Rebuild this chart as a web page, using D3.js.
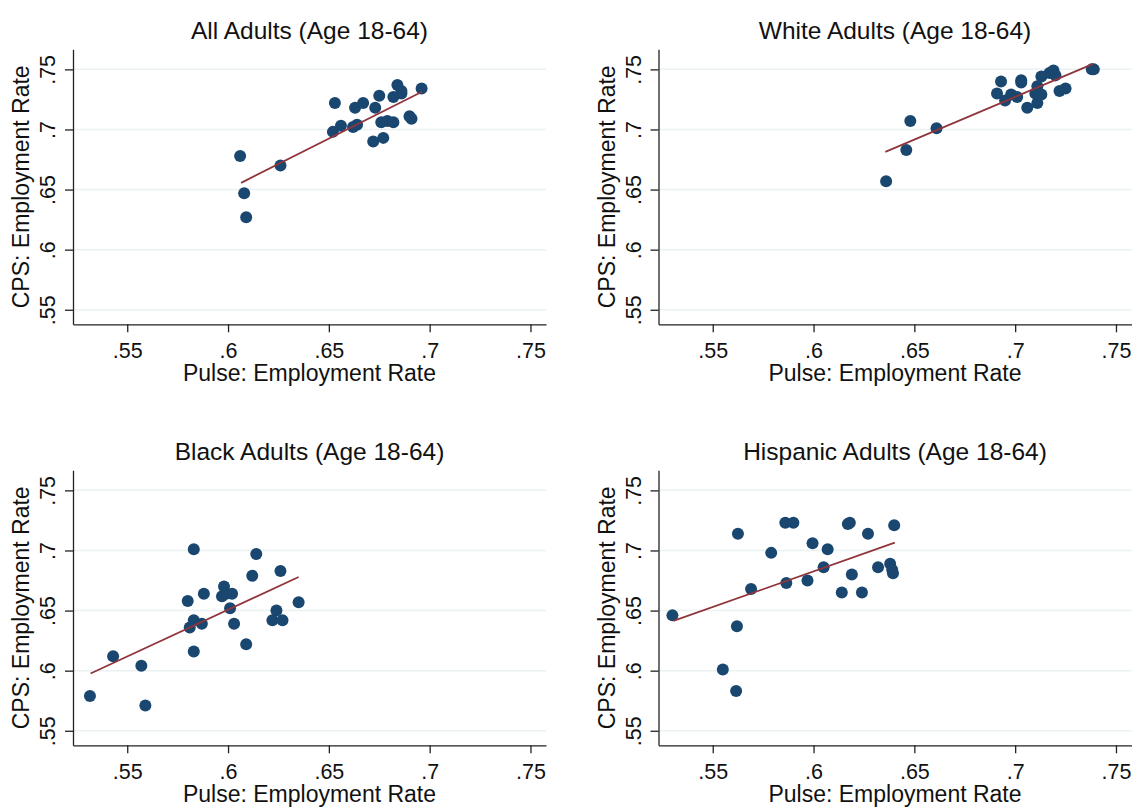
<!DOCTYPE html>
<meta charset="utf-8">
<script src="https://d3js.org/d3.v7.min.js"></script>
<style>
  body { margin: 0; background: #fff; }
  text { font-family: "Liberation Sans", Arial, sans-serif; fill: #111; }
</style>
<div id="main"></div>
<script>

var width = 1137
var height = 808

// panel titles
var titles = ["All Adults (Age 18-64)", "White Adults (Age 18-64)",
              "Black Adults (Age 18-64)", "Hispanic Adults (Age 18-64)"]

// ticks shared by every panel
var tickValues = [0.55, 0.6, 0.65, 0.7, 0.75]
var tickLabels = [".55", ".6", ".65", ".7", ".75"]

// All adults: Pulse (x) vs CPS (y)
var allX = [0.606, 0.626, 0.608, 0.609, 0.653, 0.652, 0.656, 0.662, 0.664, 0.663, 0.667, 0.673,
            0.675, 0.672, 0.677, 0.676, 0.679, 0.682, 0.682, 0.684, 0.686, 0.686, 0.690, 0.691, 0.696]
var allY = [0.678, 0.670, 0.647, 0.627, 0.722, 0.698, 0.703, 0.702, 0.704, 0.718, 0.722, 0.718,
            0.728, 0.690, 0.693, 0.706, 0.707, 0.706, 0.727, 0.737, 0.732, 0.730, 0.711, 0.709, 0.734]
var allFitX = [0.6065, 0.6962]
var allFitY = [0.6556, 0.7314]

// White adults
var whiteX = [0.636, 0.646, 0.648, 0.661, 0.693, 0.691, 0.695, 0.698, 0.701, 0.703, 0.703, 0.706,
              0.711, 0.710, 0.711, 0.713, 0.713, 0.717, 0.719, 0.720, 0.722, 0.725, 0.738, 0.739]
var whiteY = [0.657, 0.683, 0.707, 0.701, 0.740, 0.730, 0.724, 0.729, 0.727, 0.741, 0.739, 0.718,
              0.722, 0.730, 0.736, 0.744, 0.729, 0.747, 0.749, 0.745, 0.732, 0.734, 0.750, 0.750]
var whiteFitX = [0.6356, 0.7384]
var whiteFitY = [0.6814, 0.7544]

// Black adults
var blackX = [0.5315, 0.543, 0.557, 0.559, 0.580, 0.583, 0.581, 0.583, 0.583, 0.587, 0.588, 0.597,
              0.598, 0.599, 0.601, 0.602, 0.603, 0.609, 0.612, 0.614, 0.622, 0.624, 0.627, 0.626, 0.635]
var blackY = [0.579, 0.612, 0.604, 0.571, 0.658, 0.701, 0.636, 0.642, 0.616, 0.639, 0.664, 0.662,
              0.670, 0.664, 0.652, 0.664, 0.639, 0.622, 0.679, 0.697, 0.642, 0.650, 0.642, 0.683, 0.657]
var blackFitX = [0.5318, 0.635]
var blackFitY = [0.5976, 0.6779]

// Hispanic adults
var hispX = [0.530, 0.555, 0.5616, 0.562, 0.5625, 0.569, 0.579, 0.586, 0.590, 0.5865, 0.597, 0.5995,
             0.605, 0.607, 0.614, 0.617, 0.618, 0.619, 0.624, 0.627, 0.632, 0.638, 0.639, 0.6394, 0.640]
var hispY = [0.646, 0.601, 0.583, 0.637, 0.714, 0.668, 0.698, 0.723, 0.723, 0.673, 0.675, 0.706,
             0.686, 0.701, 0.665, 0.722, 0.723, 0.680, 0.665, 0.714, 0.686, 0.689, 0.684, 0.681, 0.721]
var hispFitX = [0.5305, 0.6403]
var hispFitY = [0.6414, 0.7065]

var panelsX = [allX, whiteX, blackX, hispX]
var panelsY = [allY, whiteY, blackY, hispY]
var fitsX = [allFitX, whiteFitX, blackFitX, hispFitX]
var fitsY = [allFitY, whiteFitY, blackFitY, hispFitY]

var svg = d3.select("#main")
  .append("svg")
    .attr("width", width)
    .attr("height", height)

svg.append("rect").attr("width", width).attr("height", height).attr("fill", "#fff")

// plot region of each panel
var pw = 473, ph = 275
var lefts = [73, 658.5, 73, 658.5]
var tops = [49.3, 49.3, 470.3, 470.3]

var x = d3.scaleLinear().domain([0.5231, 0.7577]).range([0, pw])
var y = d3.scaleLinear().domain([0.5379, 0.7667]).range([ph, 0])

for (let p = 0; p < 4; p++) {
  var g = svg.append("g").attr("transform", "translate(" + lefts[p] + "," + tops[p] + ")")

  // gridlines
  g.selectAll(".grid")
    .data(tickValues)
    .enter()
    .append("line")
      .attr("x1", 0).attr("x2", pw)
      .attr("y1", d => y(d)).attr("y2", d => y(d))
      .attr("stroke", "#eaf2f3")
      .attr("stroke-width", 1.5)

  // x axis
  var xa = g.append("g")
    .attr("transform", "translate(0," + ph + ")")
    .call(d3.axisBottom(x).tickValues(tickValues).tickFormat((d, i) => tickLabels[i]).tickSize(8).tickSizeOuter(0))
  xa.select(".domain").attr("stroke", "#222").attr("stroke-width", 1.3)
  xa.selectAll(".tick line").attr("stroke", "#222").attr("stroke-width", 1.3)
  xa.selectAll(".tick text")
    .attr("y", 18)
    .style("font-size", "21.5px")
    .style("font-family", "'Liberation Sans', Arial, sans-serif")
    .attr("fill", "#111")

  // y axis, labels turned like the original
  var ya = g.append("g")
    .call(d3.axisLeft(y).tickValues(tickValues).tickFormat((d, i) => tickLabels[i]).tickSize(8).tickSizeOuter(0))
  ya.select(".domain").attr("stroke", "#222").attr("stroke-width", 1.3)
  ya.selectAll(".tick line").attr("stroke", "#222").attr("stroke-width", 1.3)
  ya.selectAll(".tick text")
    .attr("x", null).attr("dy", null)
    .attr("transform", "translate(-18,0) rotate(-90)")
    .attr("text-anchor", "middle")
    .style("font-size", "21.5px")
    .style("font-family", "'Liberation Sans', Arial, sans-serif")
    .attr("fill", "#111")

  // axis titles
  g.append("text")
    .attr("x", pw / 2)
    .attr("y", ph + 57)
    .attr("text-anchor", "middle")
    .style("font-size", "23px")
    .text("Pulse: Employment Rate")

  g.append("text")
    .attr("transform", "translate(-44," + (ph / 2) + ") rotate(-90)")
    .attr("text-anchor", "middle")
    .style("font-size", "23px")
    .text("CPS: Employment Rate")

  // panel title
  g.append("text")
    .attr("x", pw / 2)
    .attr("y", -10)
    .attr("text-anchor", "middle")
    .style("font-size", "24.5px")
    .text(titles[p])

  // scatter points
  var xs = panelsX[p], ys = panelsY[p]
  g.selectAll("circle")
    .data(xs.map((d, i) => [d, ys[i]]))
    .enter()
    .append("circle")
      .attr("cx", d => x(d[0]))
      .attr("cy", d => y(d[1]))
      .attr("r", 6)
      .attr("fill", "#1a476f")

  // fitted line
  var line = d3.line().x(d => x(d[0])).y(d => y(d[1]))
  g.append("path")
    .datum(fitsX[p].map((d, i) => [d, fitsY[p][i]]))
    .attr("d", line)
    .attr("fill", "none")
    .attr("stroke", "#90353b")
    .attr("stroke-width", 1.8)
}

</script>
